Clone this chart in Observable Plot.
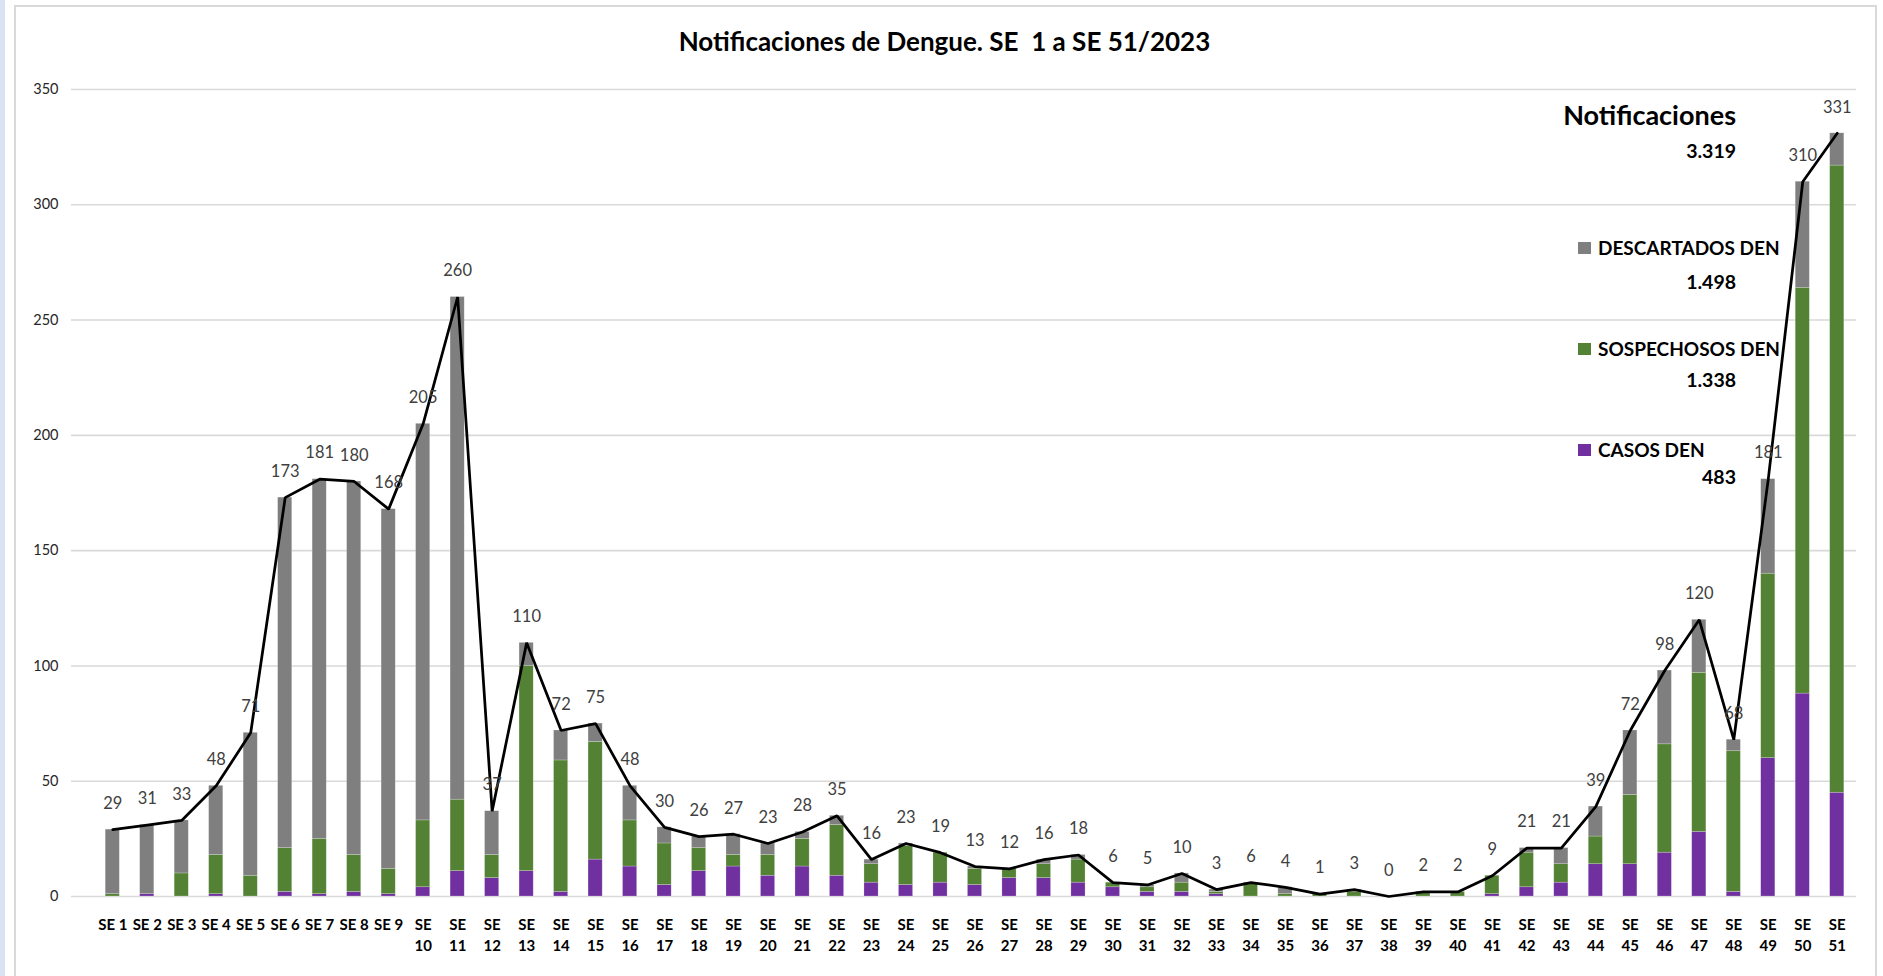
<!DOCTYPE html>
<html>
<head>
<meta charset="utf-8">
<script src="https://cdn.jsdelivr.net/npm/d3@7"></script>
<script src="https://cdn.jsdelivr.net/npm/@observablehq/plot@0.6"></script>
<style>
  html, body { margin:0; padding:0; background:#ffffff; width:1883px; height:976px; overflow:hidden; font-family: Lato, "Open Sans", sans-serif; }
  #strip { position:absolute; left:0; top:0; width:5px; height:976px; background:#dae3f3; }
  #frame { position:absolute; left:14px; top:5px; width:1863px; height:1000px; border:2px solid #d9d9d9; box-sizing:border-box; }
  #chart { position:absolute; left:0; top:0; }
  #title { position:absolute; left:0; width:1889px; top:26px; text-align:center; font-weight:700; font-size:26px; line-height:30px; color:#000; }
  .lg { position:absolute; font-weight:700; color:#000; line-height:1; white-space:nowrap; }
  .num { text-align:right; right:147px; }
  .sw { position:absolute; width:13px; height:12px; }
</style>
</head>
<body>
<div id="strip"></div>
<div id="frame"></div>
<div id="chart"></div>
<div id="title">Notificaciones de Dengue. SE&nbsp; 1 a SE 51/2023</div>
<div id="legend"></div>
<script>
// ---- Data ----
const semanas = ["SE 1","SE 2","SE 3","SE 4","SE 5","SE 6","SE 7","SE 8","SE 9","SE 10",
  "SE 11","SE 12","SE 13","SE 14","SE 15","SE 16","SE 17","SE 18","SE 19","SE 20",
  "SE 21","SE 22","SE 23","SE 24","SE 25","SE 26","SE 27","SE 28","SE 29","SE 30",
  "SE 31","SE 32","SE 33","SE 34","SE 35","SE 36","SE 37","SE 38","SE 39","SE 40",
  "SE 41","SE 42","SE 43","SE 44","SE 45","SE 46","SE 47","SE 48","SE 49","SE 50","SE 51"];
const casos = [0,1,0,1,0,2,1,2,1,4, 11,8,11,2,16,13,5,11,13,9, 13,9,6,5,6,5,8,8,6,4,
  2,2,1,0,0,0,0,0,0,0, 1,4,6,14,14,19,28,2,60,88,45];
const sospechosos = [1,0,10,17,9,19,24,16,11,29, 31,10,89,57,51,20,18,10,5,9, 12,22,8,17,13,7,4,6,10,2,
  2,4,1,6,1,1,2,0,2,2, 8,15,8,12,30,47,69,61,80,176,272];
const descartados = [28,30,23,30,62,152,156,162,156,172, 218,19,10,13,8,15,7,5,9,5, 3,4,2,1,0,1,0,2,2,0,
  1,4,1,0,3,0,1,0,0,0, 0,2,7,13,28,32,23,5,41,46,14];
const notificaciones = [29,31,33,48,71,173,181,180,168,205, 260,37,110,72,75,48,30,26,27,23,
  28,35,16,23,19,13,12,16,18,6, 5,10,3,6,4,1,3,0,2,2, 9,21,21,39,72,98,120,68,181,310,331];
const series = ["CASOS DEN","SOSPECHOSOS DEN","DESCARTADOS DEN"];
const colores = ["#7030a0","#548235","#7f7f7f"];
const totalNotificaciones = 3319;
const totalesSerie = [483, 1338, 1498]; // CASOS, SOSPECHOSOS, DESCARTADOS
const yTicks = [0,50,100,150,200,250,300,350];

// ---- Tables ----
const valores = [casos, sospechosos, descartados];
const rows = semanas.flatMap((s, i) => series.map((serie, k) => ({semana: s, serie, valor: valores[k][i]})));
const totals = semanas.map((s, i) => ({semana: s, total: notificaciones[i]}));

const fmt = n => d3.format(",")(n).replace(/,/g, ".");

const chart = Plot.plot({
  width: 1883, height: 976,
  marginLeft: 71, marginRight: 27, marginTop: 89, marginBottom: 80,
  style: {fontFamily: "Lato, 'Open Sans', sans-serif", background: "transparent", overflow: "visible"},
  x: {type: "band", domain: semanas, range: [95, 1854], paddingInner: 0.59, paddingOuter: 0.295, round: false},
  y: {domain: [0, 350]},
  color: {domain: series, range: colores},
  marks: [
    Plot.ruleY(yTicks, {stroke: "#d9d9d9", strokeWidth: 1.6}),
    Plot.barY(rows, {x: "semana", y: "valor", fill: "serie", order: series, stroke: "#ffffff", strokeOpacity: 0.35, strokeWidth: 0.6}),
    Plot.line(totals, {x: "semana", y: "total", stroke: "#000", strokeWidth: 2.75, strokeLinejoin: "miter"}),
    Plot.text(totals, {x: "semana", y: "total", text: d => String(d.total), dy: -26, fill: "#404040", fontSize: 16.5}),
    Plot.axisY(yTicks, {tickSize: 0, tickPadding: 13, fontSize: 14.5, fill: "#262626", label: null}),
    Plot.axisX({tickSize: 0, tickPadding: 19, fontSize: 15, fontWeight: "bold", fill: "#000", lineHeight: 1.4, label: null,
      tickFormat: d => { const n = d.split(" ")[1]; return n.length > 1 ? "SE\n" + n : d; }})
  ]
});
document.getElementById("chart").appendChild(chart);

// ---- Legend (inside chart area, as in reference) ----
const lg = document.getElementById("legend");
function addText(txt, cls, size, centerY, left) {
  const el = document.createElement("div");
  el.className = "lg " + cls;
  el.style.fontSize = size + "px";
  el.style.top = (centerY - 0.53 * size) + "px";
  if (left != null) el.style.left = left + "px";
  el.textContent = txt;
  lg.appendChild(el);
}
addText("Notificaciones", "num", 27, 115);
addText(fmt(totalNotificaciones), "num", 19.5, 151);
const legendRows = [
  {k: 2, y: 248, ny: 282},
  {k: 1, y: 349, ny: 380},
  {k: 0, y: 450, ny: 477}
];
legendRows.forEach(r => {
  const sw = document.createElement("div");
  sw.className = "sw";
  sw.style.background = colores[r.k];
  sw.style.left = "1578px";
  sw.style.top = (r.y - 6) + "px";
  lg.appendChild(sw);
  addText(series[r.k], "", 19, r.y, 1598);
  addText(fmt(totalesSerie[r.k]), "num", 19.5, r.ny);
});
</script>
</body>
</html>
